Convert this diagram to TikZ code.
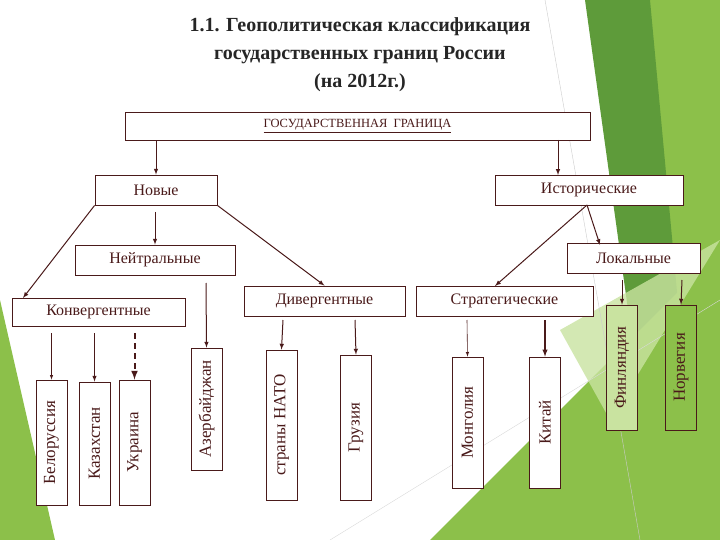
\documentclass[tikz,border=0pt]{standalone}
\usepackage{fontspec}
\setmainfont{Liberation Serif}
\definecolor{dg}{HTML}{5E9B3A}
\definecolor{lg}{HTML}{8CC04A}
\definecolor{pg}{HTML}{C9E3A0}
\definecolor{br}{HTML}{4A1A1A}
\begin{document}
\begin{tikzpicture}[x=1pt,y=-1pt,
 bx/.style={draw=br,line width=0.8pt,fill=white,inner sep=0pt,font=\fontsize{16}{16}\selectfont,text=br},
 ar/.style={draw=br,line width=1pt,-latex},
 vbox/.style={bx,minimum height=31pt,font=\fontsize{17}{17}\selectfont}]
\useasboundingbox (0,0) rectangle (720,540);
\fill[white] (0,0) rectangle (720,540);
% decorative green
\fill[lg] (640,0) -- (720,0) -- (720,540) -- (690,540) -- cycle;
\fill[dg] (585,0) -- (650,0) -- (700,540) -- (660,540) -- cycle;
\fill[lg] (430,540) -- (720,250) -- (720,540) -- cycle;
\fill[pg,opacity=0.8] (560,330) -- (720,240) -- (610,420) -- cycle;
\fill[lg] (0,300) -- (55,540) -- (0,540) -- cycle;
\draw[gray!40] (545,0) -- (640,540);
\draw[gray!30] (330,540) -- (720,300);
% title
\node[font=\bfseries\fontsize{20}{28}\selectfont,align=center,text=black!85] (title) at (360,55)
 {1.1. Геополитическая классификация\\государственных границ России\\(на 2012г.)};
% boxes
\node[bx,minimum width=465pt,minimum height=28pt,font=\fontsize{12.5}{12.5}\selectfont] (top) at (357.5,126) {\underline{ГОСУДАРСТВЕННАЯ\ \ ГРАНИЦА}};
\node[bx,minimum width=122pt,minimum height=30pt] (nov) at (156,190) {Новые};
\node[bx,minimum width=188pt,minimum height=30pt] (ist) at (589,190) {Исторические};
\node[bx,minimum width=160pt,minimum height=30pt] (nei) at (155,260) {Нейтральные};
\node[bx,minimum width=133pt,minimum height=30pt] (lok) at (633.5,258) {Локальные};
\node[bx,minimum width=173pt,minimum height=28pt] (kon) at (98.5,312) {Конвергентные};
\node[bx,minimum width=161pt,minimum height=30pt] (div) at (324.5,301) {Дивергентные};
\node[bx,minimum width=177pt,minimum height=30pt] (str) at (504.5,301) {Стратегические};
% vertical boxes
\node[vbox,minimum width=125pt,rotate=90] (bel) at (51.5,442.5) {Белоруссия};
\node[vbox,minimum width=123pt,rotate=90] (kaz) at (94.5,443.5) {Казахстан};
\node[vbox,minimum width=125pt,rotate=90] (ukr) at (134.5,442.5) {Украина};
\node[vbox,minimum width=122pt,rotate=90] (aze) at (206.5,409) {Азербайджан};
\node[vbox,minimum width=150pt,rotate=90] (nato) at (281.5,425) {страны НАТО};
\node[vbox,minimum width=145pt,rotate=90] (gru) at (356,427.5) {Грузия};
\node[vbox,minimum width=131pt,rotate=90] (mon) at (467.5,422.5) {Монголия};
\node[vbox,minimum width=131pt,rotate=90] (kit) at (545,422.5) {Китай};
\node[vbox,minimum width=125pt,rotate=90,fill=pg] (fin) at (622,367.5) {Финляндия};
\node[vbox,minimum width=125pt,rotate=90,fill=lg] (nor) at (681,367.5) {Норвегия};
% arrows
\draw[ar] (top.south -| nov) -- (nov.north);
\draw[ar] (558,140) -- (558,175);
\draw[ar] (nov.south west) -- (23,298);
\draw[ar] (155,212) -- (nei.north);
\draw[ar] (nov.south east) -- (div.north);
\draw[ar] (587,205) -- (495,286);
\draw[ar] (587,205) -- (600,245);
\draw[ar] (206,283) -- (aze.east);
\draw[ar,line width=0.6pt] (51.5,333) -- (bel.east);
\draw[ar] (94.5,333) -- (kaz.east);
\draw[ar,line width=2pt,dash pattern=on 6pt off 4pt] (134.5,333) -- (ukr.east);
\draw[ar] (283,320) -- (nato.east);
\draw[ar] (355,320) -- (gru.east);
\draw[ar,line width=0.6pt] (467,320) -- (mon.east);
\draw[ar,line width=1.4pt] (545,320) -- (kit.east);
\draw[ar] (622,280) -- (fin.east);
\draw[ar] (682,280) -- (nor.east);
\end{tikzpicture}
\end{document}
